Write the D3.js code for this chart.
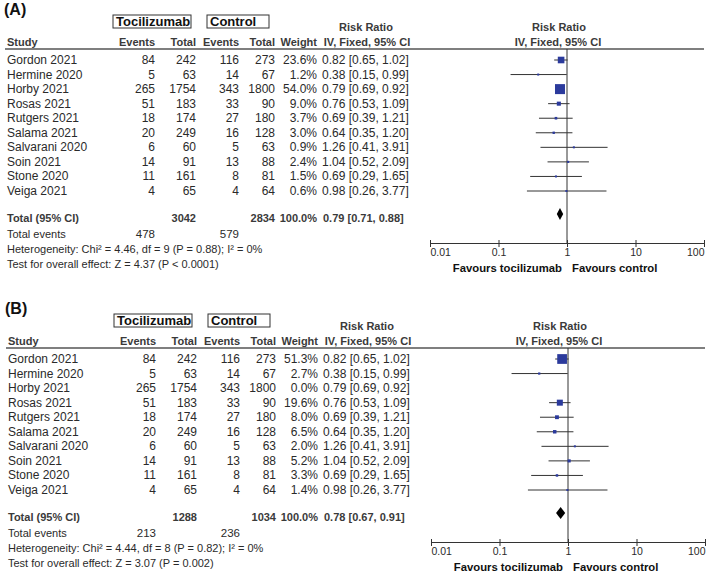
<!DOCTYPE html>
<html>
<head>
<meta charset="utf-8">
<script src="https://cdn.jsdelivr.net/npm/d3@7"></script>
<style>
  html, body { margin: 0; padding: 0; background: #fff; }
  svg { display: block; font-family: "Liberation Sans", Arial, sans-serif; }
</style>
</head>
<body>
<svg id="chart" width="709" height="579"></svg>
<script>
// ---------- data ----------
const studies = ["Gordon 2021", "Hermine 2020", "Horby 2021", "Rosas 2021", "Rutgers 2021",
  "Salama 2021", "Salvarani 2020", "Soin 2021", "Stone 2020", "Veiga 2021"];
const tociEvents = [84, 5, 265, 51, 18, 20, 6, 14, 11, 4];
const tociTotal = [242, 63, 1754, 183, 174, 249, 60, 91, 161, 65];
const ctrlEvents = [116, 14, 343, 33, 27, 16, 5, 13, 8, 4];
const ctrlTotal = [273, 67, 1800, 90, 180, 128, 63, 88, 81, 64];
const rr = [0.82, 0.38, 0.79, 0.76, 0.69, 0.64, 1.26, 1.04, 0.69, 0.98];
const ciLow = [0.65, 0.15, 0.69, 0.53, 0.39, 0.35, 0.41, 0.52, 0.29, 0.26];
const ciHigh = [1.02, 0.99, 0.92, 1.09, 1.21, 1.20, 3.91, 2.09, 1.65, 3.77];
const weightA = [23.6, 1.2, 54.0, 9.0, 3.7, 3.0, 0.9, 2.4, 1.5, 0.6];
const weightB = [51.3, 2.7, 0.0, 19.6, 8.0, 6.5, 2.0, 5.2, 3.3, 1.4];

const panelLabels = ["(A)", "(B)"];
const pooledRR = [0.79, 0.78];
const pooledLow = [0.71, 0.67];
const pooledHigh = [0.88, 0.91];
const totalToci = [3042, 1288];
const totalCtrl = [2834, 1034];
const totalEventsToci = [478, 213];
const totalEventsCtrl = [579, 236];
const heterogeneity = [
  "Heterogeneity: Chi\u00B2 = 4.46, df = 9 (P = 0.88); I\u00B2 = 0%",
  "Heterogeneity: Chi\u00B2 = 4.44, df = 8 (P = 0.82); I\u00B2 = 0%"
];
const overallEffect = [
  "Test for overall effect: Z = 4.37 (P < 0.0001)",
  "Test for overall effect: Z = 3.07 (P = 0.002)"
];
const tickValues = [0.01, 0.1, 1, 10, 100];
const tickLabels = ["0.01", "0.1", "1", "10", "100"];

// ---------- drawing ----------
const svg = d3.select("#chart");
const TXT = "#2a2a2a";
const HDR = "#3a3a3a";
const BLUE = "#2b3a9c";
const fmt2 = d3.format(".2f");
const fmt1 = d3.format(".1f");

const x = d3.scaleLog().domain([0.01, 100]).range([430, 704]);
const yRow = d3.scaleLinear().domain([0, studies.length - 1]).range([60, 191]);
const sq = d3.scaleSqrt().domain([0, 100]).range([0, 13.6]);

const col = { study: 7, ev1: 155, tot1: 196, ev2: 239, tot2: 275, weight: 317, rr: 322 };

function panel(p, weights, g) {
  // panel label
  g.append("text").attr("x", 4).attr("y", 15).attr("font-size", 16).attr("font-weight", "bold")
    .attr("fill", "#111").text(panelLabels[p]);

  // group boxes
  const boxes = [{ t: "Tocilizumab", x0: 113, x1: 191 }, { t: "Control", x0: 207, x1: 269 }];
  boxes.forEach(b => {
    g.append("rect").attr("x", b.x0).attr("y", 15).attr("width", b.x1 - b.x0).attr("height", 13)
      .attr("fill", "none").attr("stroke", "#333").attr("stroke-width", 1);
    g.append("text").attr("x", b.x0 + 3).attr("y", 26).attr("font-size", 13).attr("font-weight", "bold")
      .attr("fill", "#111").text(b.t);
  });

  // headers
  const hb = (t, xx, yy, anchor) => g.append("text").attr("x", xx).attr("y", yy)
    .attr("font-size", 11).attr("font-weight", "bold").attr("fill", HDR)
    .attr("text-anchor", anchor).text(t);
  hb("Risk Ratio", 366, 31, "middle");
  hb("IV, Fixed, 95% CI", 367, 46, "middle");
  hb("Risk Ratio", 559, 31, "middle");
  hb("IV, Fixed, 95% CI", 558, 46, "middle");
  hb("Study", col.study, 46, "start");
  hb("Events", col.ev1, 46, "end");
  hb("Total", col.tot1, 46, "end");
  hb("Events", col.ev2, 46, "end");
  hb("Total", col.tot2, 46, "end");
  hb("Weight", col.weight, 46, "end");

  g.append("line").attr("x1", 5).attr("x2", 704).attr("y1", 49).attr("y2", 49)
    .attr("stroke", "#555").attr("stroke-width", 1.5);

  // rows
  const tx = (t, xx, yy, anchor, bold, size) => g.append("text").attr("x", xx).attr("y", yy)
    .attr("font-size", size || 12).attr("font-weight", bold ? "bold" : "normal").attr("fill", bold ? HDR : TXT)
    .attr("text-anchor", anchor).text(t);

  studies.forEach((s, i) => {
    const yb = yRow(i) + 4;
    tx(s, col.study, yb, "start");
    tx(tociEvents[i], col.ev1, yb, "end");
    tx(tociTotal[i], col.tot1, yb, "end");
    tx(ctrlEvents[i], col.ev2, yb, "end");
    tx(ctrlTotal[i], col.tot2, yb, "end");
    tx(fmt1(weights[i]) + "%", col.weight, yb, "end");
    tx(`${fmt2(rr[i])} [${fmt2(ciLow[i])}, ${fmt2(ciHigh[i])}]`, col.rr, yb, "start");
  });

  // totals
  const yT = 218;
  tx("Total (95% CI)", col.study, yT + 4, "start", true, 11);
  tx(totalToci[p], col.tot1, yT + 4, "end", true, 11);
  tx(totalCtrl[p], col.tot2, yT + 4, "end", true, 11);
  tx("100.0%", col.weight, yT + 4, "end", true, 11);
  tx(`${fmt2(pooledRR[p])} [${fmt2(pooledLow[p])}, ${fmt2(pooledHigh[p])}]`, col.rr + 1, yT + 4, "start", true, 11);
  tx("Total events", col.study, 238, "start", false, 11);
  tx(totalEventsToci[p], col.ev1, 238, "end", false, 11.5);
  tx(totalEventsCtrl[p], col.ev2, 238, "end", false, 11.5);
  tx(heterogeneity[p], col.study, 253, "start", false, 11);
  tx(overallEffect[p], col.study, 268, "start", false, 11);

  // forest plot
  const axisY = 243;
  g.append("line").attr("x1", x(1)).attr("x2", x(1)).attr("y1", 49).attr("y2", axisY)
    .attr("stroke", "#333").attr("stroke-width", 1);

  const rows = g.append("g");
  studies.forEach((s, i) => {
    if (weights[i] <= 0) return;
    const yc = yRow(i);
    rows.append("line").attr("x1", x(ciLow[i])).attr("x2", x(ciHigh[i]))
      .attr("y1", yc).attr("y2", yc).attr("stroke", "#333").attr("stroke-width", 1);
    const side = Math.max(2, sq(weights[i]));
    rows.append("rect").attr("x", x(rr[i]) - side / 2).attr("y", yc - side / 2)
      .attr("width", side).attr("height", side).attr("fill", BLUE);
  });

  const yd = 214;
  const dpts = [[x(pooledLow[p]), yd], [x(pooledRR[p]), yd - 6], [x(pooledHigh[p]), yd], [x(pooledRR[p]), yd + 6]];
  g.append("path").attr("d", d3.line()(dpts) + "Z").attr("fill", "#000");

  // axis
  const axis = d3.axisBottom(x).tickValues(tickValues).tickFormat((d, i) => tickLabels[i])
    .tickSizeInner(3).tickSizeOuter(0).tickPadding(3);
  const ag = g.append("g").attr("transform", `translate(0,${axisY})`).call(axis);
  ag.select(".domain").attr("stroke", "#333");
  ag.selectAll(".tick line").attr("stroke", "#333").attr("y1", -3).attr("y2", 4);
  ag.selectAll(".tick text").attr("font-size", 10.5).attr("fill", TXT)
    .attr("font-family", "Liberation Sans, Arial, sans-serif")
    .attr("text-anchor", (d, i) => i === 0 ? "start" : (i === tickValues.length - 1 ? "end" : "middle"));

  g.append("text").attr("x", x(1) - 5).attr("y", 272).attr("font-size", 11.3).attr("font-weight", "bold")
    .attr("fill", "#111").attr("text-anchor", "end").text("Favours tocilizumab");
  g.append("text").attr("x", x(1) + 5).attr("y", 272).attr("font-size", 11.3).attr("font-weight", "bold")
    .attr("fill", "#111").attr("text-anchor", "start").text("Favours control");
}

panel(0, weightA, svg.append("g"));
panel(1, weightB, svg.append("g").attr("transform", "translate(1,299)"));
</script>
</body>
</html>
